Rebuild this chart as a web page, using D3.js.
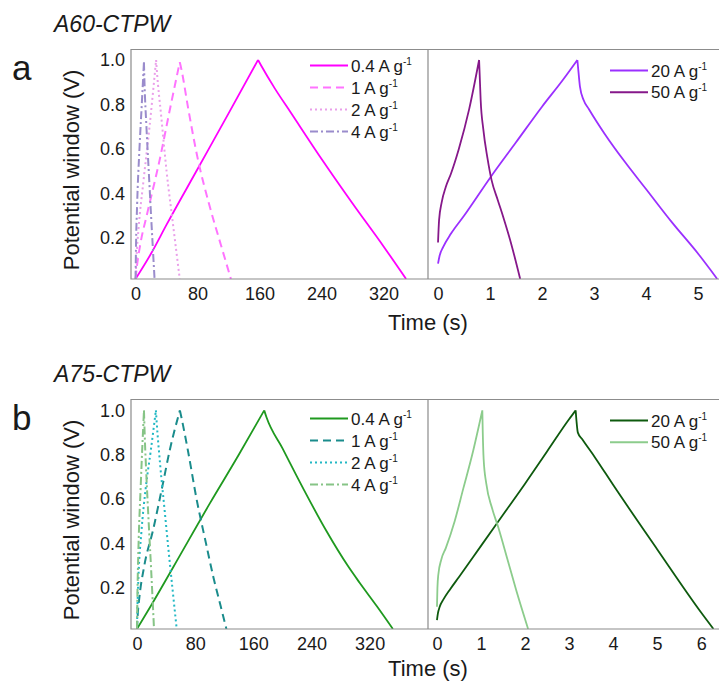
<!DOCTYPE html>
<html lang="en">
<head>
<meta charset="UTF-8"/>
<title>GCD curves A60 / A75-CTPW</title>
<script src="https://d3js.org/d3.v7.min.js"></script>
<style>
  body { margin: 0; background: #fff; }
  text { font-family: "Liberation Sans", Arial, sans-serif; fill: #1a1a1a; }
</style>
</head>
<body>
<script>

// ---- data (time in s, potential in V) ----
var voltTicks = [0.2, 0.4, 0.6, 0.8, 1.0];
var slowTicks = [0, 80, 160, 240, 320];
var fastTicksA = [0, 1, 2, 3, 4, 5];
var fastTicksB = [0, 1, 2, 3, 4, 5, 6];
var slowRates = ["0.4", "1", "2", "4"];
var fastRates = ["20", "50"];

// A60-CTPW
var a60_04 = [[0,0.016],[20,0.13],[40,0.26],[80,0.51],[120,0.76],[158,1.0],[162,0.975],[180,0.87],[200,0.765],[240,0.555],[280,0.355],[320,0.162],[349,0.016]];
var a60_1 = [[0,0.016],[2,0.08],[6,0.17],[15,0.31],[31,0.55],[45,0.79],[57,0.99],[59,0.96],[68,0.78],[80,0.56],[95,0.35],[110,0.17],[123,0.016]];
var a60_2 = [[0,0.016],[1,0.1],[4,0.25],[10,0.45],[18,0.7],[26.5,1.0],[27.5,0.95],[33,0.75],[40,0.5],[48,0.27],[57,0.016]];
var a60_4 = [[0,0.016],[0.5,0.15],[2,0.35],[5,0.6],[8,0.8],[10.8,0.99],[11.5,0.9],[14,0.7],[17,0.5],[20,0.3],[24.5,0.016]];
var a60_20 = [[0,0.085],[0.03,0.12],[0.1,0.16],[0.25,0.22],[0.5,0.3],[1,0.47],[1.5,0.63],[2,0.79],[2.4,0.91],[2.68,1.0],[2.7,0.95],[2.73,0.88],[2.8,0.82],[2.9,0.78],[3.2,0.67],[3.6,0.54],[4,0.42],[4.5,0.27],[5,0.13],[5.37,0.016]];
var a60_50 = [[0,0.18],[0.02,0.28],[0.07,0.36],[0.15,0.43],[0.25,0.49],[0.4,0.6],[0.6,0.78],[0.79,1.0],[0.8,0.94],[0.82,0.82],[0.87,0.69],[0.95,0.56],[1.03,0.46],[1.15,0.37],[1.26,0.29],[1.4,0.18],[1.58,0.016]];

// A75-CTPW
var a75_04 = [[0,0.016],[20,0.125],[50,0.295],[100,0.58],[140,0.8],[175,1.0],[178,0.97],[200,0.83],[230,0.64],[260,0.46],[290,0.3],[306,0.225],[330,0.118],[352,0.016]];
var a75_1 = [[0,0.016],[1,0.08],[3,0.15],[10,0.3],[22,0.46],[35,0.66],[45,0.82],[59,1.0],[61,0.97],[70,0.82],[82,0.6],[95,0.4],[105,0.25],[115,0.12],[123,0.016]];
var a75_2 = [[0,0.016],[0.5,0.1],[2,0.25],[6,0.45],[12,0.65],[19,0.82],[26,1.0],[27,0.95],[32,0.75],[38,0.55],[44,0.35],[50,0.16],[54.6,0.016]];
var a75_4 = [[0,0.016],[0.5,0.15],[2,0.38],[5,0.65],[7.5,0.85],[9.6,1.0],[10.5,0.9],[13,0.7],[16,0.5],[19.5,0.28],[23.4,0.016]];
var a75_20 = [[0,0.056],[0.02,0.085],[0.06,0.115],[0.15,0.15],[0.3,0.195],[0.5,0.25],[1,0.39],[1.5,0.53],[2,0.67],[2.5,0.815],[3,0.96],[3.15,1.0],[3.17,0.95],[3.2,0.9],[3.3,0.87],[3.6,0.785],[4,0.665],[5,0.375],[6,0.09],[6.28,0.016]];
var a75_50 = [[0,0.116],[0.01,0.2],[0.03,0.26],[0.1,0.33],[0.2,0.38],[0.4,0.5],[0.6,0.65],[0.8,0.8],[1.03,1.0],[1.04,0.9],[1.06,0.78],[1.12,0.67],[1.25,0.56],[1.39,0.475],[1.6,0.33],[1.8,0.19],[2.07,0.016]];

// line styles
var dashes = ["none", "8,5", "2,3", "8,3,2,3"];

var W = 719, H = 683;
var svg = d3.select("body").append("svg")
    .attr("width", W)
    .attr("height", H);

// one figure row (a or b)
function drawRow(opt) {
    var g = svg.append("g").attr("transform", "translate(0," + opt.dy + ")");
    var top = 49.5, bottom = 279, left = 131, mid = 428, right = 719.5;

    var y = d3.scaleLinear().domain(opt.yDomain).range([bottom, top]);
    var xs = d3.scaleLinear().domain(opt.slowDomain).range([left, mid]);
    var xf = d3.scaleLinear().domain(opt.fastDomain).range([mid, right]);

    // curves: charge and discharge branch each smoothed separately so the peak stays sharp
    function path(x, data) {
        var k = d3.maxIndex(data, function(d){ return d[1]; });
        var line = d3.line()
            .x(function(d){ return x(d[0]); })
            .y(function(d){ return y(d[1]); })
            .curve(d3.curveMonotoneX);
        return line(data.slice(0, k + 1)) + line(data.slice(k));
    }

    var clipId = "clip" + opt.letter;
    g.append("clipPath").attr("id", clipId)
        .append("rect").attr("x", left).attr("y", top)
        .attr("width", right - left).attr("height", bottom - top);

    var curves = g.append("g").attr("clip-path", "url(#" + clipId + ")");
    opt.slow.forEach(function(s, i) {
        curves.append("path")
            .attr("d", path(xs, s))
            .attr("fill", "none")
            .attr("stroke", opt.slowColors[i])
            .attr("stroke-width", i === 0 ? 1.8 : 2)
            .attr("stroke-dasharray", dashes[i]);
    });
    opt.fast.forEach(function(s, i) {
        curves.append("path")
            .attr("d", path(xf, s))
            .attr("fill", "none")
            .attr("stroke", opt.fastColors[i])
            .attr("stroke-width", 1.8);
    });

    // frame
    g.append("path")
        .attr("d", "M" + right + "," + (top) + "H" + left + "V" + bottom + "H" + right +
                   "M" + mid + "," + top + "V" + bottom)
        .attr("fill", "none")
        .attr("stroke", "#8c8c8c")
        .attr("stroke-width", 1.2);

    // axes (labels only)
    var ax = g.append("g").attr("transform", "translate(0," + bottom + ")")
        .call(d3.axisBottom(xs).tickValues(slowTicks).tickSize(0).tickPadding(8)
              .tickFormat(d3.format("d")));
    var ax2 = g.append("g").attr("transform", "translate(0," + bottom + ")")
        .call(d3.axisBottom(xf).tickValues(opt.fastTicks).tickSize(0).tickPadding(8)
              .tickFormat(d3.format("d")));
    var ay = g.append("g").attr("transform", "translate(" + left + ",0)")
        .call(d3.axisLeft(y).tickValues(voltTicks).tickSize(0).tickPadding(6)
              .tickFormat(d3.format(".1f")));
    [ax, ax2, ay].forEach(function(a) {
        a.select(".domain").remove();
        a.selectAll("text").style("font-size", "18px")
            .style("font-family", "'Liberation Sans', Arial, sans-serif")
            .attr("fill", "#1a1a1a");
    });

    // axis titles
    g.append("text")
        .attr("x", 428).attr("y", 330 + opt.timeShift)
        .attr("text-anchor", "middle")
        .style("font-size", "22px")
        .text("Time (s)");
    g.append("text")
        .attr("transform", "translate(79,170) rotate(-90)")
        .attr("text-anchor", "middle")
        .style("font-size", "22px")
        .text("Potential window (V)");

    // panel letter + sample name
    g.append("text").attr("x", 12).attr("y", 80)
        .style("font-size", "35px").text(opt.letter);
    g.append("text").attr("x", 54).attr("y", 32)
        .style("font-size", "23px").style("font-style", "italic")
        .text(opt.name);

    // legends
    function legend(x0, y0, step, rates, colors, dash) {
        rates.forEach(function(r, i) {
            var yy = y0 + i * step;
            g.append("line")
                .attr("x1", x0).attr("x2", x0 + 38)
                .attr("y1", yy).attr("y2", yy)
                .attr("stroke", colors[i])
                .attr("stroke-width", 2)
                .attr("stroke-dasharray", dash ? dashes[i] : "none");
            var t = g.append("text")
                .attr("x", x0 + 41).attr("y", yy + 6)
                .style("font-size", "17px");
            t.append("tspan").text(r + " A g");
            t.append("tspan").attr("dy", -7).style("font-size", "10px").text("-1");
        });
    }
    legend(310, 65.5 + opt.legendShift, 22, slowRates, opt.slowColors, true);
    legend(610, 70.5, 21.7, fastRates, opt.fastColors, false);
}

drawRow({
    name: "A60-CTPW", letter: "a", dy: 0, legendShift: 0, timeShift: 0,
    yDomain: [0.0157, 1.047],
    slowDomain: [-5.9, 377.3],
    fastDomain: [-0.193, 5.414],
    fastTicks: fastTicksA,
    slow: [a60_04, a60_1, a60_2, a60_4],
    fast: [a60_20, a60_50],
    slowColors: ["#ff00ff", "#ff73ff", "#eaa0ea", "#9a8ccc"],
    fastColors: ["#9b30ff", "#86188a"]
});

drawRow({
    name: "A75-CTPW", letter: "b", dy: 350, legendShift: 3, timeShift: -4,
    yDomain: [0.0157, 1.049],
    slowDomain: [-8.25, 400.3],
    fastDomain: [-0.204, 6.417],
    fastTicks: fastTicksB,
    slow: [a75_04, a75_1, a75_2, a75_4],
    fast: [a75_20, a75_50],
    slowColors: ["#1f991f", "#1a8c8c", "#22b8c4", "#86c486"],
    fastColors: ["#0e5a0e", "#8ccc8c"]
});

</script>
</body>
</html>
